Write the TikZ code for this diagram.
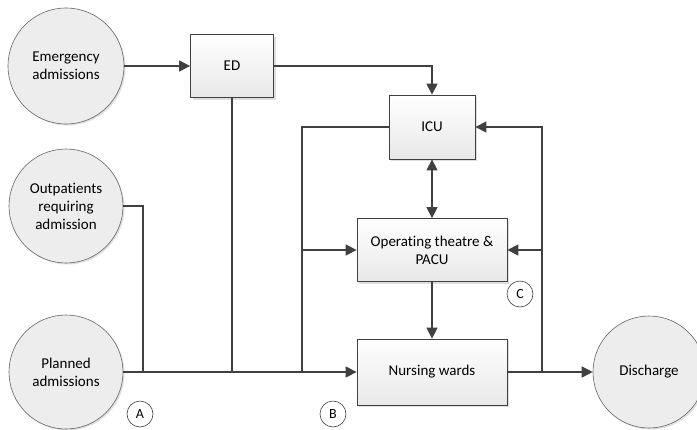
\documentclass[tikz,border=0pt]{standalone}
\usepackage{fontspec}
\setmainfont{Carlito}[Ligatures={NoCommon}]
\usepackage{tikz}
\usetikzlibrary{arrows.meta, shapes, backgrounds, shadows}

\definecolor{linegray}{HTML}{404040}
\definecolor{circfill}{HTML}{EDEDED}

\begin{document}
\begin{tikzpicture}[x=1pt, y=-1pt, background rectangle/.style={fill=white}, show background rectangle,
                    font=\fontsize{15}{18}\selectfont]
            \useasboundingbox (0,0) rectangle (697,429);
            \begin{scope}[every node/.style={circle, draw=linegray!80, line width=0.6pt, fill=circfill,
                          align=center, inner sep=0pt,
                          drop shadow={shadow xshift=1.5pt, shadow yshift=-1.5pt, fill=gray!25, opacity=1}}]
                \node[minimum size=116pt] (emerg) at (66,66) {Emergency\\admissions};
                \node[minimum size=114pt] (outp) at (66,206) {Outpatients\\requiring\\admission};
                \node[minimum size=114pt] (plan) at (66,372) {Planned\\admissions};
                \node[minimum size=112pt] (disch) at (649,372) {Discharge};
            \end{scope}

            \begin{scope}[every node/.style={rectangle, draw=linegray, line width=0.8pt,
                          top color=white, bottom color=gray!18, align=center,
                          drop shadow={shadow xshift=2pt, shadow yshift=-2pt, fill=gray!25, opacity=1}}]
                \node[minimum width=83pt, minimum height=63pt] (ED) at (232,66) {ED};
                \node[minimum width=86pt, minimum height=64pt] (ICU) at (432,127) {ICU};
                \node[minimum width=150pt, minimum height=63pt] (OT) at (432,250) {Operating theatre \&\\PACU};
                \node[minimum width=150pt, minimum height=66pt] (NW) at (432,372) {Nursing wards};
            \end{scope}

            \begin{scope}[every node/.style={circle, draw=linegray, line width=0.6pt, fill=white,
                          minimum size=26pt, inner sep=0pt, font=\fontsize{14}{16}\selectfont}]
                \node (A) at (140,414) {A};
                \node (B) at (333,414) {B};
                \node (C) at (520,294) {C};
            \end{scope}

            % junction points
            \coordinate (j1) at (143,372);
            \coordinate (j2) at (232,372);
            \coordinate (j3) at (302,372);
            \coordinate (j4) at (302,250);
            \coordinate (j5) at (542,372);
            \coordinate (j6) at (542,250);

            \begin{scope}[>={Triangle[length=11pt, width=11pt]},
                          every path/.style={draw=linegray, line width=1.4pt}]
                \draw[->] (emerg) -- (ED);
                \draw[->] (ED.east) -| (ICU.north);
                \draw (outp.east |- 0,206) -| (j1);
                \draw (ED.south) -- (j2);
                \draw (j3) |- (ICU.west);
                \draw[->] (j4) -- (OT.west);
                \draw[->] (plan) -- (NW.west);
                \draw[<->] (ICU) -- (OT);
                \draw[->] (OT) -- (NW);
                \draw[->] (NW) -- (disch);
                \draw[->] (j5) |- (ICU.east);
                \draw[->] (j6) -- (OT.east);
            \end{scope}

            \end{tikzpicture}
\end{document}
